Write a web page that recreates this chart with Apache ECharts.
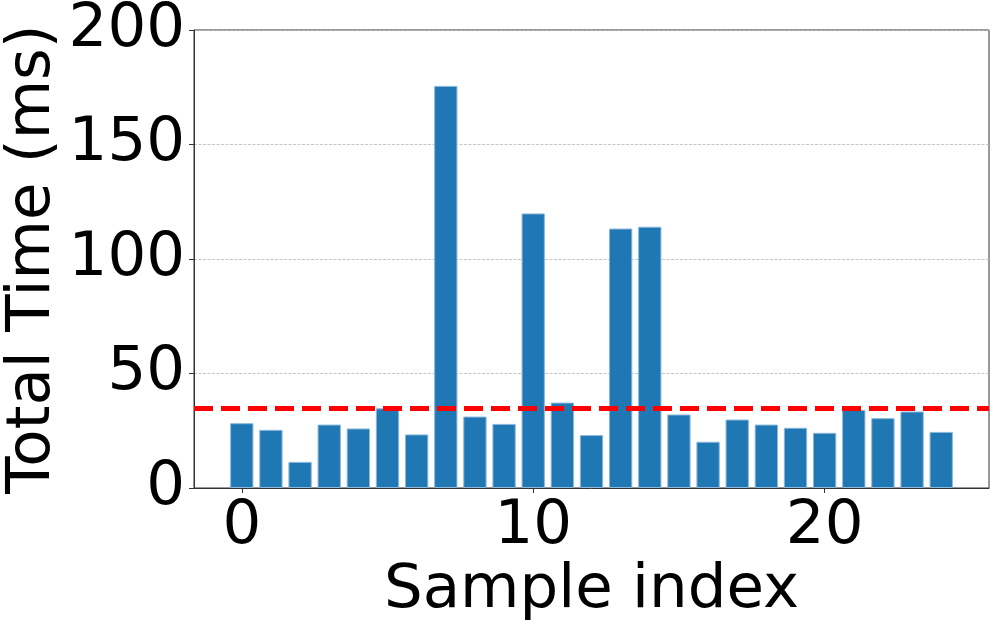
<!DOCTYPE html>
<html>
<head>
<meta charset="utf-8">
<script src="https://cdn.jsdelivr.net/npm/echarts@6/dist/echarts.min.js"></script>
<style>
  html, body { margin: 0; padding: 0; background: #fff; }
  #chart { width: 996px; height: 624px; }
</style>
</head>
<body>
<div id="chart"></div>
<script>
// Values
const sampleIndex = [0, 1, 2, 3, 4, 5, 6, 7, 8, 9, 10, 11, 12, 13, 14, 15, 16, 17, 18, 19, 20, 21, 22, 23, 24];
const totalTimeMs = [28.3, 25.4, 11.4, 27.7, 26.0, 34.8, 23.4, 175.6, 31.2, 28.0, 119.9, 37.3, 23.1,
                     113.3, 114.1, 32.1, 20.2, 29.9, 27.7, 26.3, 24.1, 34.1, 30.5, 33.4, 24.5];
const thresholdMs = 35;
const xTicks = [0, 10, 20];
const yTicks = [0, 50, 100, 150, 200];

// matplotlib-style limits: bars of width 0.8 plus a 5% margin each side
const xMin = -1.64, xMax = 25.64;
const gridLeft = 194, gridRight = 7, gridTop = 30, gridBottom = 136;
const plotW = 996 - gridLeft - gridRight;
const barPx = 0.8 * plotW / (xMax - xMin);

const font = 'DejaVu Sans';
const fontSize = 61;
const chart = echarts.init(document.getElementById('chart'), null, { renderer: 'canvas' });

chart.setOption({
  animation: false,
  grid: {
    left: gridLeft, right: gridRight, top: gridTop, bottom: gridBottom,
    outerBoundsMode: 'none',
    show: true, borderColor: '#333', borderWidth: 1, backgroundColor: 'transparent'
  },
  xAxis: {
    type: 'value',
    min: xMin, max: xMax,
    name: 'Sample index',
    nameLocation: 'middle',
    nameGap: 73,
    nameMoveOverlap: false,
    nameTextStyle: { fontFamily: font, fontSize: fontSize, color: '#000' },
    axisLine: { show: true, onZero: false, lineStyle: { color: '#333', width: 1 } },
    axisTick: { show: true, length: 5, customValues: xTicks, lineStyle: { color: '#333' } },
    axisLabel: { customValues: xTicks, margin: 9, fontFamily: font, fontSize: fontSize, color: '#000' },
    splitLine: { show: false }
  },
  yAxis: {
    type: 'value',
    min: yTicks[0], max: yTicks[yTicks.length - 1], interval: 50,
    name: 'Total Time (ms)',
    nameLocation: 'middle',
    nameGap: 130,
    nameMoveOverlap: false,
    nameTextStyle: { fontFamily: font, fontSize: fontSize, color: '#000' },
    axisLine: { show: true, onZero: false, lineStyle: { color: '#333', width: 1 } },
    axisTick: { show: true, length: 5, lineStyle: { color: '#333' } },
    axisLabel: { margin: 9, fontFamily: font, fontSize: fontSize, color: '#000' },
    splitLine: { show: true, lineStyle: { color: '#b8b8b8', width: 0.8, type: [3, 1.5] } }
  },
  series: [{
    type: 'bar',
    data: sampleIndex.map((x, i) => [x, totalTimeMs[i]]),
    barWidth: barPx,
    itemStyle: { color: '#1f77b4', borderColor: '#8db8dc', borderWidth: 1 },
    markLine: {
      silent: true,
      symbol: 'none',
      label: { show: false },
      lineStyle: { color: '#ff0000', width: 5, type: [19, 8] },
      data: [{ yAxis: thresholdMs }]
    }
  }]
});
</script>
</body>
</html>
